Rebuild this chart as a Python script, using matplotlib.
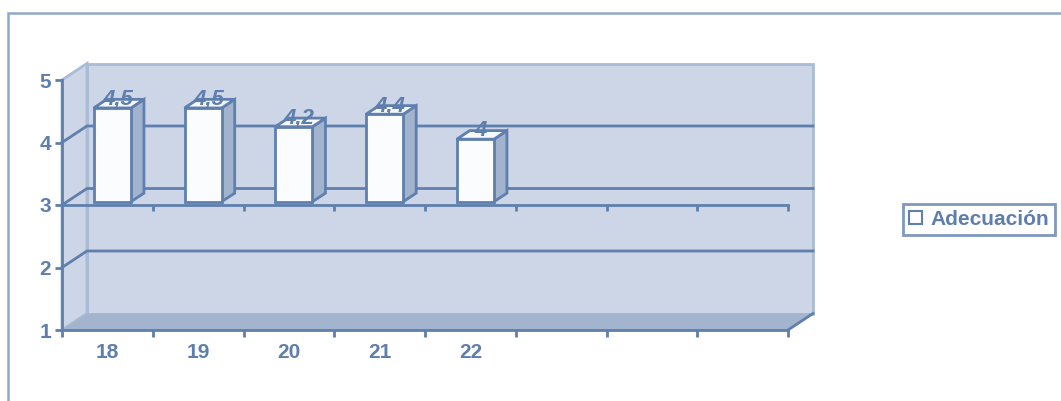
import matplotlib
matplotlib.use("Agg")
import matplotlib.pyplot as plt
from matplotlib.patches import Polygon, Patch, Rectangle

plt.rcParams['font.family'] = ['Liberation Sans', 'DejaVu Sans']
plt.rcParams['font.weight'] = 'bold'

categories = ['18', '19', '20', '21', '22']
values = [4.5, 4.5, 4.2, 4.4, 4.0]
value_labels = ['4,5', '4,5', '4,2', '4,4', '4']
n_slots = 8
series_name = 'Adecuación'

LINE = '#5f7fae'
TEXT = '#5e7eae'
WALL = '#ccd6e7'
EDGE = '#a9bbd5'
FLOOR = '#a3b4cf'
SIDE = '#a2b3ce'

# oblique depth (in data units, for full depth)
DX, DY = 0.275, 0.264
base = 3.0
bw = 0.41
f0, f1 = 0.2, 0.72


def P(x, y, f):
    return (x + f * DX, y + f * DY)


fig = plt.figure(figsize=(10.61, 4.01), dpi=100)
ax = fig.add_axes([62 / 1061, 71 / 401, 726 / 1061, 250 / 401])
ax.set_xlim(0, n_slots)
ax.set_ylim(1, 5)
ax.patch.set_visible(False)
for s in ['top', 'right']:
    ax.spines[s].set_visible(False)
for s in ['left', 'bottom']:
    ax.spines[s].set_color(LINE)
    ax.spines[s].set_linewidth(2)
    ax.spines[s].set_zorder(6)

ax.set_yticks([1, 2, 3, 4, 5], ['1', '2', '3', '4', '5'],
              fontweight='bold', fontsize=15)
ax.set_xticks(range(n_slots + 1))
ax.set_xticklabels([])
ax.set_xticks([i + 0.5 for i in range(len(categories))], categories,
              minor=True, fontweight='bold', fontsize=15)
ax.tick_params(axis='both', which='major', color=LINE, width=2, length=5,
               labelcolor=TEXT)
ax.tick_params(axis='y', pad=3)
ax.tick_params(axis='x', which='minor', length=0, pad=9, labelcolor=TEXT)

# walls and floor
back = Polygon([P(0, 1, 1), P(n_slots, 1, 1), P(n_slots, 5, 1), P(0, 5, 1)],
               closed=True, facecolor=WALL, edgecolor=EDGE, lw=2, zorder=1,
               clip_on=False)
left = Polygon([P(0, 1, 0), P(0, 5, 0), P(0, 5, 1), P(0, 1, 1)],
               closed=True, facecolor=WALL, edgecolor=EDGE, lw=2, zorder=1,
               clip_on=False)
floor = Polygon([P(0, 1, 0), P(n_slots, 1, 0), P(n_slots, 1, 1), P(0, 1, 1)],
                closed=True, facecolor=FLOOR, edgecolor='none', zorder=1.5,
                clip_on=False)
for p in [back, left, floor]:
    ax.add_patch(p)
x_a, y_a = zip(P(n_slots, 1, 0), P(n_slots, 1, 1))
ax.plot(x_a, y_a, color=LINE, lw=2, zorder=6, clip_on=False)

# gridlines on back wall + left wall
for v in [2, 3, 4]:
    xs, ys = zip(P(0, v, 0), P(0, v, 1), P(n_slots, v, 1))
    ax.plot(xs, ys, color=LINE, lw=2, zorder=2, clip_on=False)

# front axis line at the base value with ticks
ax.plot([0, n_slots], [base, base], color=LINE, lw=2, zorder=6, clip_on=False)
ax.vlines(range(1, n_slots + 1), base - 0.09, base, color=LINE, lw=2,
          zorder=6, clip_on=False)

# bars
for i, (v, lab) in enumerate(zip(values, value_labels)):
    x0 = i + 0.5 - bw / 2
    x1 = i + 0.5 + bw / 2
    front = Polygon([P(x0, base, f0), P(x1, base, f0), P(x1, v, f0), P(x0, v, f0)],
                    closed=True, facecolor='#fbfcfe', edgecolor=LINE, lw=2,
                    zorder=3, clip_on=False)
    side = Polygon([P(x1, base, f0), P(x1, base, f1), P(x1, v, f1), P(x1, v, f0)],
                   closed=True, facecolor=SIDE, edgecolor=LINE, lw=2,
                   zorder=3, clip_on=False)
    top = Polygon([P(x0, v, f0), P(x1, v, f0), P(x1, v, f1), P(x0, v, f1)],
                  closed=True, facecolor='#f6f8fc', edgecolor=LINE, lw=2,
                  zorder=3, clip_on=False)
    for p in [side, top, front]:
        ax.add_patch(p)
    tx, ty = P(i + 0.5, v, f0)
    ax.text(tx + 0.06, ty + 0.05, lab, ha='center', va='baseline', color=TEXT,
            fontsize=16, fontweight='bold', fontstyle='italic', zorder=4)

# chart area border
fig.add_artist(Rectangle((8 / 1061, -0.1), 1.2, 1 - 13 / 401 + 0.1,
                         transform=fig.transFigure, fill=False,
                         edgecolor='#8ea9cc', lw=1.8))

leg = ax.legend(handles=[Patch(facecolor='white', edgecolor=LINE, lw=1.5,
                               label=series_name)],
                loc='center', bbox_to_anchor=(979 / 1061, 1 - 219.5 / 401),
                bbox_transform=fig.transFigure, fancybox=False,
                handlelength=0.6, handleheight=0.6, handletextpad=0.4,
                borderpad=0.3, borderaxespad=0,
                prop={'size': 15, 'weight': 'bold'})
leg.get_frame().set_edgecolor(LINE)
leg.get_frame().set_linewidth(2)
for t in leg.get_texts():
    t.set_color(TEXT)

fig.savefig('out.png', dpi=100)
